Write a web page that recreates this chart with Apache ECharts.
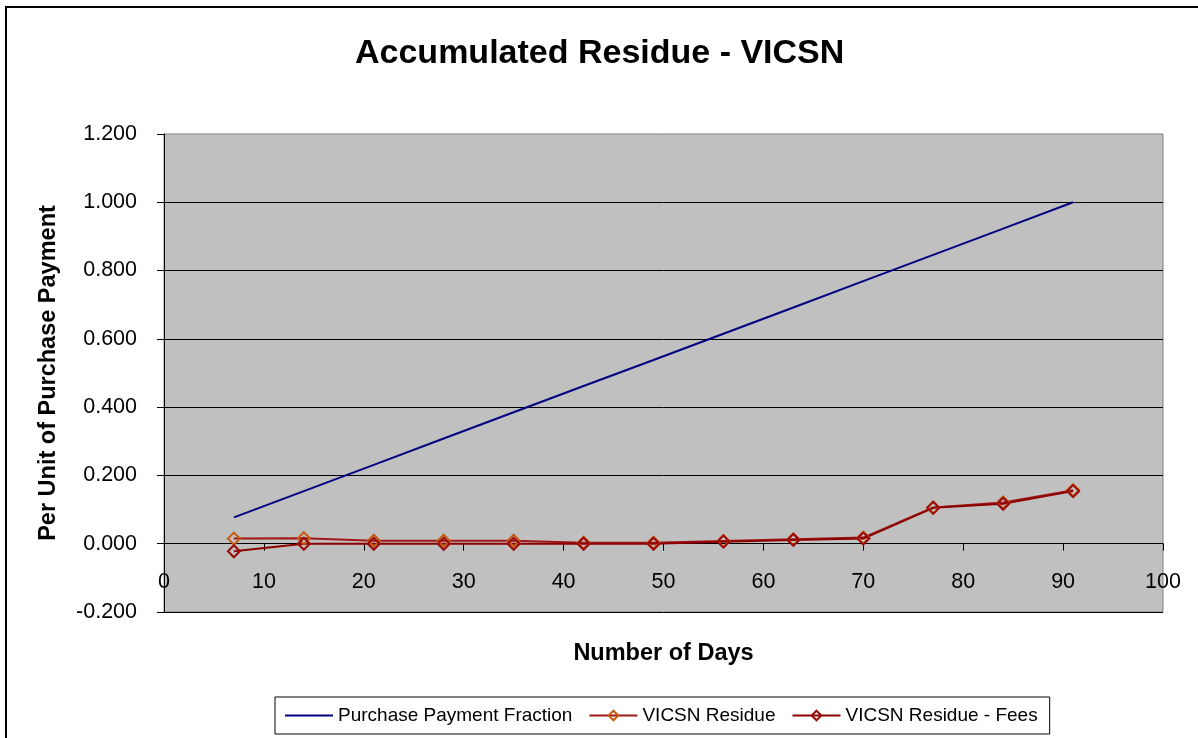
<!DOCTYPE html>
<html>
<head>
<meta charset="utf-8">
<title>Accumulated Residue - VICSN</title>
<script src="https://cdn.jsdelivr.net/npm/echarts@6/dist/echarts.min.js"></script>
<style>
  html, body { margin: 0; padding: 0; background: #fff; }
  #chart { width: 1198px; height: 738px; }
</style>
</head>
<body>
<div id="chart"></div>
<script>
// days since purchase
var days = [7, 14, 21, 28, 35, 42, 49, 56, 63, 70, 77, 84, 91]
var paymentFraction = [0.077, 0.154, 0.231, 0.308, 0.385, 0.462, 0.538, 0.615, 0.692, 0.769, 0.846, 0.923, 1.000]
var vicsnResidue = [0.015, 0.016, 0.009, 0.009, 0.009, 0.003, 0.003, 0.008, 0.013, 0.018, 0.106, 0.121, 0.157]
var vicsnResidueFees = [-0.022, 0, 0, 0, 0, 0, 0, 0.006, 0.011, 0.015, 0.105, 0.117, 0.154]
var seriesNames = ['Purchase Payment Fraction', 'VICSN Residue', 'VICSN Residue - Fees']

function pairs(ys) {
  return days.map(function (d, i) { return [d, ys[i]] })
}

var font = 'Liberation Sans, Arial, sans-serif'
var chart = echarts.init(document.getElementById('chart'))

chart.setOption({
  backgroundColor: '#fff',
  animation: false,
  title: {
    text: 'Accumulated Residue - VICSN',
    left: 350,
    top: 32,
    textStyle: {
      fontFamily: font,
      fontWeight: 'bold',
      fontSize: 34,
      color: '#000'
    }
  },
  graphic: [{
    type: 'rect',
    shape: { x: 6, y: 7, width: 1260, height: 800 },
    style: { fill: 'none', stroke: '#000', lineWidth: 2 },
    silent: true
  }],
  legend: {
    left: 275,
    top: 697,
    padding: [9, 12, 9, 10],
    borderColor: '#000',
    borderWidth: 1,
    itemWidth: 48,
    itemHeight: 12,
    itemGap: 16,
    textStyle: { fontFamily: font, fontSize: 19, color: '#000' },
    data: [
      { name: seriesNames[0], icon: 'path://M0,0 L48,0 L48,2 L0,2 Z' },
      seriesNames[1],
      seriesNames[2]
    ]
  },
  grid: {
    left: 164,
    right: 35,
    top: 134,
    bottom: 126,
    outerBoundsMode: 'none',
    show: true,
    backgroundColor: '#c0c0c0',
    borderColor: '#808080',
    borderWidth: 1
  },
  xAxis: {
    type: 'value',
    min: 0,
    max: 100,
    interval: 10,
    name: 'Number of Days',
    nameLocation: 'middle',
    nameGap: 30,
    nameTextStyle: { fontFamily: font, fontWeight: 'bold', fontSize: 23.5, color: '#000' },
    axisLine: { onZero: true, lineStyle: { color: '#000', width: 1 } },
    axisTick: { length: 7, lineStyle: { color: '#000' } },
    axisLabel: { margin: -41, fontFamily: font, fontSize: 21.5, color: '#000' },
    splitLine: { show: false }
  },
  yAxis: {
    type: 'value',
    min: -0.2,
    max: 1.2,
    interval: 0.2,
    name: 'Per Unit of Purchase Payment',
    nameLocation: 'middle',
    nameGap: 103,
    nameTextStyle: { fontFamily: font, fontWeight: 'bold', fontSize: 23.5, color: '#000' },
    axisLine: { show: true, lineStyle: { color: '#000', width: 1 } },
    axisTick: { show: true, length: 7, lineStyle: { color: '#000' } },
    axisLabel: {
      margin: 27,
      fontFamily: font,
      fontSize: 21.5,
      color: '#000',
      formatter: function (v) { return v.toFixed(3) }
    },
    splitLine: { show: true, showMaxLine: false, lineStyle: { color: '#000', width: 1 } }
  },
  series: [{
    name: seriesNames[0],
    type: 'line',
    symbol: 'none',
    lineStyle: { color: '#000080', width: 2 },
    itemStyle: { color: '#000080' },
    data: pairs(paymentFraction)
  }, {
    name: seriesNames[1],
    type: 'line',
    symbol: 'diamond',
    symbolSize: 12,
    lineStyle: { color: '#a01818', width: 2 },
    itemStyle: { color: 'rgba(0,0,0,0)', borderColor: '#c85a10', borderWidth: 2 },
    data: pairs(vicsnResidue)
  }, {
    name: seriesNames[2],
    type: 'line',
    symbol: 'diamond',
    symbolSize: 12,
    lineStyle: { color: '#8b0000', width: 2 },
    itemStyle: { color: 'rgba(0,0,0,0)', borderColor: '#9a0a0a', borderWidth: 2 },
    data: pairs(vicsnResidueFees)
  }]
})
</script>
</body>
</html>
